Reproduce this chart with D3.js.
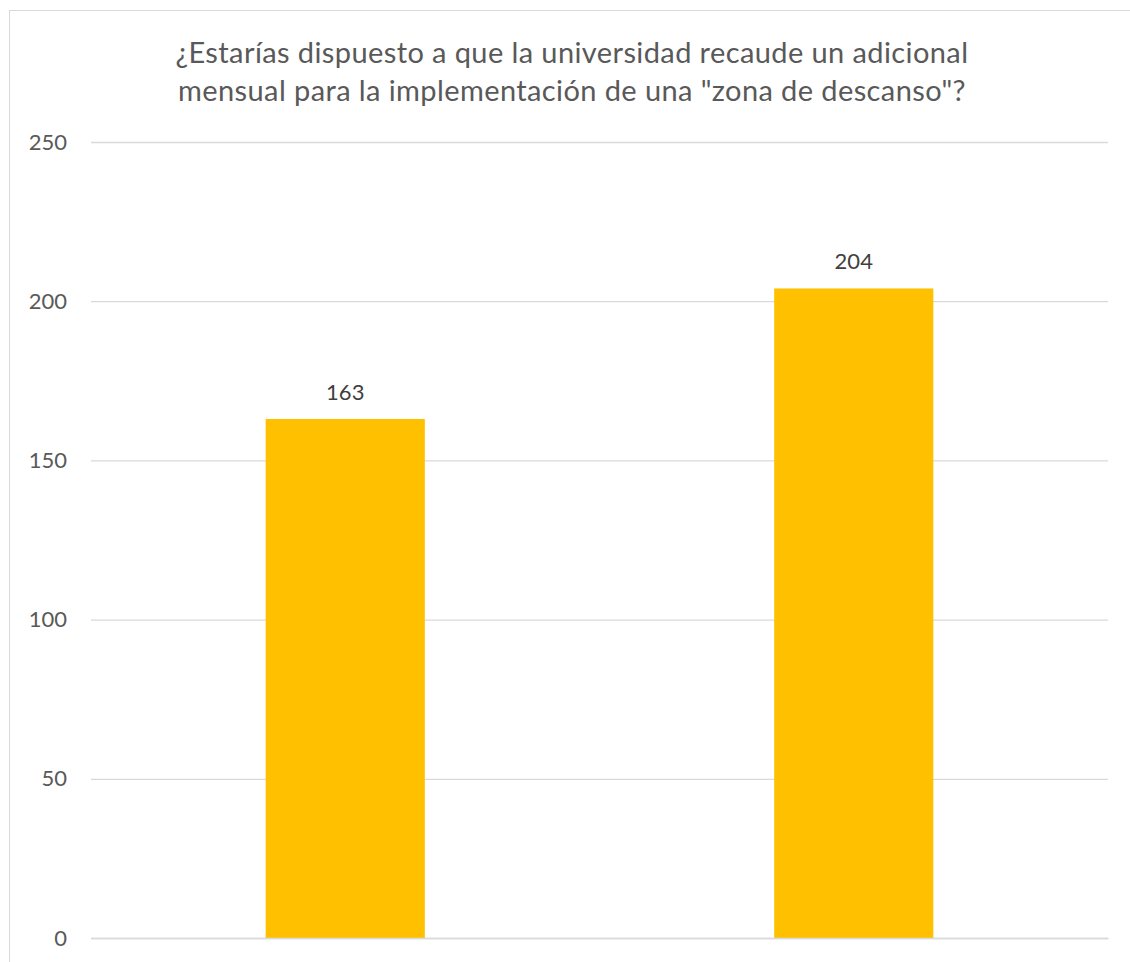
<!DOCTYPE html>
<html><head><meta charset="utf-8">
<script src="https://cdn.jsdelivr.net/npm/d3@7"></script>
<style>html,body{margin:0;padding:0;background:#fff;overflow:hidden}</style>
</head><body>
<script>
const titleLines = ["¿Estarías dispuesto a que la universidad recaude un adicional", "mensual para la implementación de una \"zona de descanso\"?"];
const categories = ["No", "Sí"];
const values = [163, 204];
const yTicks = [0, 50, 100, 150, 200, 250];

const W = 1130, H = 962;
const svg = d3.select("body").append("svg").attr("width", W).attr("height", H)
  .style("font-family", "Lato, 'Open Sans', sans-serif");

// chart frame
svg.append("rect").attr("x", 9.5).attr("y", 10.5).attr("width", 1140).attr("height", 1000)
  .attr("fill", "#fff").attr("stroke", "#d9d9d9").attr("stroke-width", 1);

const plot = {left: 91, right: 1108, top: 142, bottom: 938};
const x = d3.scaleBand().domain(categories).range([plot.left, plot.right]).paddingInner(0.687).paddingOuter(0.3435);
const y = d3.scaleLinear().domain([0, 250]).range([plot.bottom, plot.top]);

// gridlines
const yAxis = d3.axisLeft(y).tickValues(yTicks).tickSize(-(plot.right - plot.left)).tickPadding(24);
const ga = svg.append("g").attr("transform", `translate(${plot.left},0)`).call(yAxis);
ga.select(".domain").remove();
ga.selectAll(".tick line").attr("stroke", "#d9d9d9").attr("stroke-width", 1.3);
ga.selectAll(".tick text").attr("fill", "#595959").style("font-size", "22px").style("font-family", "Lato, 'Open Sans', sans-serif");

// bars
svg.append("g").selectAll("rect").data(values).join("rect")
  .attr("x", (d, i) => x(categories[i]))
  .attr("width", x.bandwidth())
  .attr("y", d => y(d))
  .attr("height", d => y(0) - y(d))
  .attr("fill", "#ffc000");

// x axis line
const xa = svg.append("g").attr("transform", `translate(0,${plot.bottom})`)
  .call(d3.axisBottom(x).tickSize(0).tickFormat(""));
xa.select(".domain").attr("stroke", "#d9d9d9").attr("stroke-width", 1.5);

// data labels
svg.append("g").selectAll("text").data(values).join("text")
  .attr("x", (d, i) => x(categories[i]) + x.bandwidth() / 2)
  .attr("y", d => y(d) - 19)
  .attr("text-anchor", "middle")
  .attr("fill", "#404040")
  .style("font-size", "22px")
  .text(d => d);

// title
svg.append("g").selectAll("text").data(titleLines).join("text")
  .attr("x", 572)
  .attr("y", (d, i) => 63 + i * 38)
  .attr("text-anchor", "middle")
  .attr("fill", "#595959")
  .style("font-size", "29px")
  .style("letter-spacing", "0.4px")
  .text(d => d);
</script>
</body></html>
